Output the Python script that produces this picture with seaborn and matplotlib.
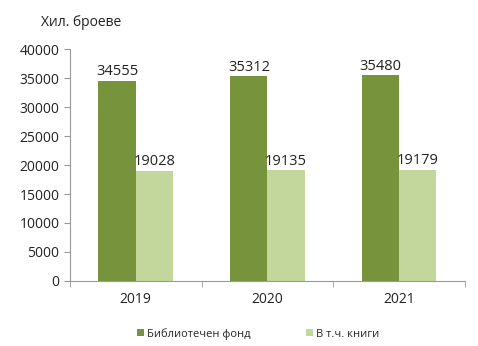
import matplotlib
matplotlib.use("Agg")
import matplotlib.pyplot as plt
import seaborn as sns
import pandas as pd

years = ["2019", "2020", "2021"]
fond = [34555, 35312, 35480]
knigi = [19028, 19135, 19179]
series_names = ["Библиотечен фонд", "В т.ч. книги"]
colors = ["#77933C", "#C3D69B"]

df = pd.DataFrame({
    "year": years * 2,
    "value": fond + knigi,
    "series": [series_names[0]] * 3 + [series_names[1]] * 3,
})

sns.set_style("white")
plt.rcParams["font.family"] = ["Open Sans", "DejaVu Sans"]

fig = plt.figure(figsize=(4.78, 3.46), dpi=100)
ax = fig.add_axes([0.146, 0.188, 0.827, 0.67])
sns.barplot(data=df, x="year", y="value", hue="series", palette=colors,
            width=0.565, gap=0, ax=ax, saturation=1, legend=True, linewidth=0)

for c in ax.containers:
    ax.bar_label(c, fmt="%d", padding=1, fontsize=10.5, color="#222222")

ax.set_ylim(0, 40000)
ax.set_xlim(-0.5, 2.5)
ax.set_yticks(range(0, 40001, 5000))
ax.set_xlabel("")
ax.set_ylabel("")
for s in ["top", "right"]:
    ax.spines[s].set_visible(False)
ax.spines["left"].set_color("#999999")
ax.spines["bottom"].set_color("#999999")
ax.tick_params(axis="y", length=4, color="#999999", labelsize=10, labelcolor="#222222", left=True)
ax.set_xticks([0, 1, 2])
ax.set_xticks([-0.5, 0.5, 1.5, 2.5], minor=True)
ax.tick_params(axis="x", which="major", length=0, labelsize=10, labelcolor="#222222", pad=8)
ax.tick_params(axis="x", which="minor", length=4, color="#999999", bottom=True)

h, l = ax.get_legend_handles_labels()
ax.get_legend().remove()
fig.legend(h, l, loc="center", bbox_to_anchor=(0.54, 0.035), ncol=2, frameon=False,
           fontsize=8, handlelength=0.6, handleheight=0.6, columnspacing=5, handletextpad=0.3)

fig.text(0.085, 0.935, "Хил. броеве", fontsize=10, color="#222222", ha="left", va="center")

fig.savefig("out.png", dpi=100)
